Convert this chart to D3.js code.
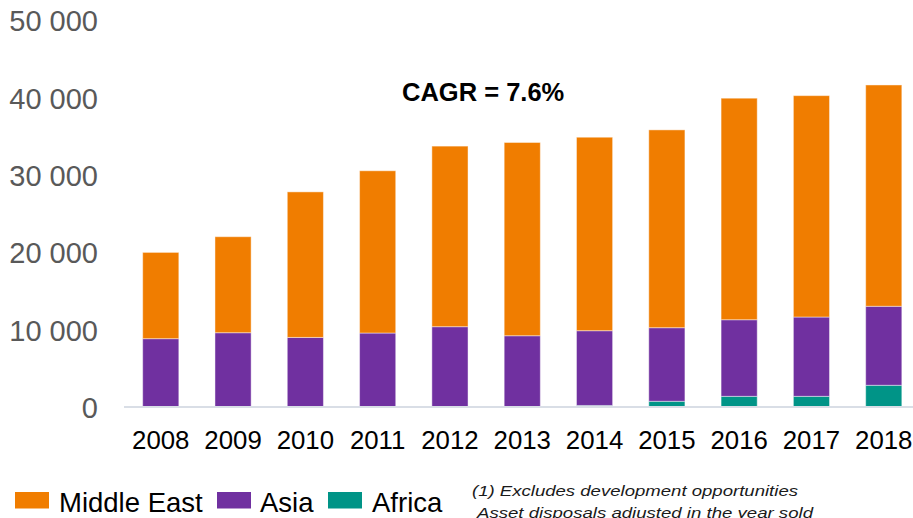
<!DOCTYPE html>
<html>
<head>
<meta charset="utf-8">
<script src="https://cdn.jsdelivr.net/npm/d3@7"></script>
<style>
  html, body { margin: 0; padding: 0; background: #fff; }
  svg { display: block; font-family: "Liberation Sans", Arial, sans-serif; }
</style>
</head>
<body>
<svg id="chart" width="913" height="518"></svg>
<script>
// ---- data ----
const years = ["2008","2009","2010","2011","2012","2013","2014","2015","2016","2017","2018"];
const africa = [0, 0, 0, 0, 0, 0, 200, 740, 1380, 1380, 2810];
const asia = [8840, 9610, 9000, 9570, 10390, 9220, 9670, 9520, 9910, 10260, 10220];
const middleEast = [11160, 12420, 18830, 20990, 23360, 25000, 25030, 25590, 28660, 28640, 28630];
const yTicks = [0, 10000, 20000, 30000, 40000, 50000];
const seriesNames = ["Middle East", "Asia", "Africa"];
const annotation = "CAGR = 7.6%";
const footnotes = ["(1) Excludes development opportunities", "Asset disposals adjusted in the year sold"];

// ---- layout ----
const colors = { "Africa": "#009487", "Asia": "#7030a0", "Middle East": "#f07d00" };
const svg = d3.select("#chart");

const rows = years.map((y, i) => ({ year: y, "Africa": africa[i], "Asia": asia[i], "Middle East": middleEast[i] }));
const stack = d3.stack().keys(["Africa", "Asia", "Middle East"]);
const stacked = stack(rows);

const x = d3.scaleBand().domain(years).range([124.6, 919.9]).paddingInner(0.5).paddingOuter(0.25);
const y = d3.scaleLinear().domain([0, 50000]).range([407, 20.5]);

// bars
svg.append("g").selectAll("g")
  .data(stacked)
  .join("g")
  .attr("fill", d => colors[d.key])
  .selectAll("rect")
  .data(d => d)
  .join("rect")
  .attr("x", d => x(d.data.year))
  .attr("width", x.bandwidth())
  .attr("y", d => y(d[1]))
  .attr("height", d => Math.max(0, y(d[0]) - y(d[1])))
  .attr("stroke", "#ffffff")
  .attr("stroke-opacity", 0.45)
  .attr("stroke-width", 1);

// baseline
svg.append("line")
  .attr("x1", 124).attr("x2", 913)
  .attr("y1", y(0)).attr("y2", y(0))
  .attr("stroke", "#d9dee6").attr("stroke-width", 2);

// y axis labels
const yAxis = d3.axisLeft(y).tickValues(yTicks).tickSize(0).tickPadding(0)
  .tickFormat(d => d3.format(",")(d).replace(/,/g, " "));
const gy = svg.append("g").attr("transform", "translate(98,0)").call(yAxis);
gy.select(".domain").remove();
gy.selectAll("text")
  .attr("font-size", "29px")
  .attr("font-family", "'Liberation Sans', Arial, sans-serif")
  .attr("fill", "#595959")
  .attr("dy", "0.36em");

// x axis labels
const xAxis = d3.axisBottom(x).tickSize(0).tickPadding(0);
const gx = svg.append("g").attr("transform", "translate(0,449)").call(xAxis);
gx.select(".domain").remove();
gx.selectAll("text")
  .attr("font-size", "25.8px")
  .attr("font-family", "'Liberation Sans', Arial, sans-serif")
  .attr("fill", "#000")
  .attr("dy", "0");

// annotation
svg.append("text")
  .attr("x", 402).attr("y", 100.5)
  .attr("font-size", "25.5px")
  .attr("font-weight", "bold")
  .attr("fill", "#000")
  .text(annotation);

// legend
const legendItems = [
  { name: seriesNames[0], sx: 15, tx: 59 },
  { name: seriesNames[1], sx: 217, tx: 260 },
  { name: seriesNames[2], sx: 328, tx: 372 }
];
const lg = svg.append("g");
legendItems.forEach(it => {
  lg.append("rect").attr("x", it.sx).attr("y", 492).attr("width", 34).attr("height", 16.5)
    .attr("fill", colors[it.name]);
  lg.append("text").attr("x", it.tx).attr("y", 511.5)
    .attr("font-size", "27.5px").attr("fill", "#000").text(it.name);
});

// footnotes
svg.append("text").attr("x", 472).attr("y", 495.5)
  .attr("font-size", "15px").attr("font-style", "italic").attr("fill", "#1a1a1a")
  .attr("textLength", 326).attr("lengthAdjust", "spacingAndGlyphs")
  .text(footnotes[0]);
svg.append("text").attr("x", 477).attr("y", 517.5)
  .attr("font-size", "15px").attr("font-style", "italic").attr("fill", "#1a1a1a")
  .attr("textLength", 336).attr("lengthAdjust", "spacingAndGlyphs")
  .text(footnotes[1]);
</script>
</body>
</html>
